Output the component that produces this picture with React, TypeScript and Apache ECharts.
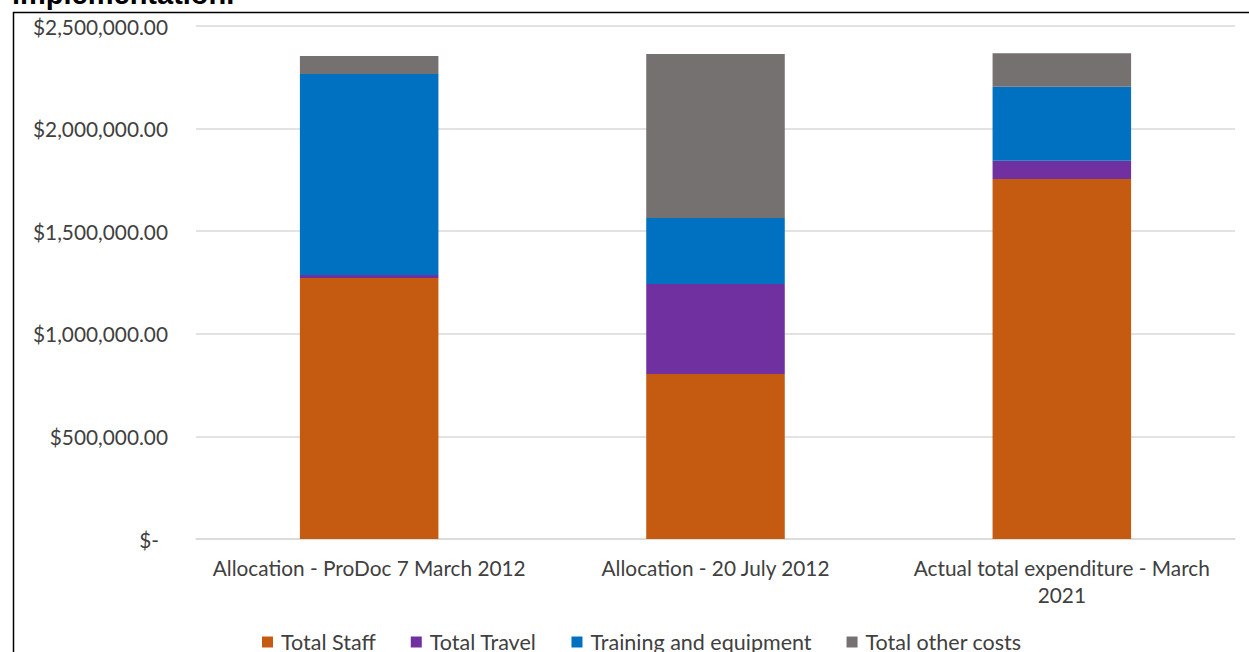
import React, { useEffect, useRef } from "react";
import * as echarts from "echarts";

const categories = [
  "Allocation - ProDoc 7 March 2012",
  "Allocation - 20 July 2012",
  "Actual total expenditure - March\n2021",
];
const seriesNames = ["Total Staff", "Total Travel", "Training and equipment", "Total other costs"];
const totalStaff = [1272000, 804000, 1754000];
const totalTravel = [15000, 439000, 89000];
const trainingEquipment = [979000, 321000, 361000];
const otherCosts = [88000, 799000, 163000];
const colors = ["#C55A11", "#7030A0", "#0070C0", "#767171"];
const yTicks = { min: 0, max: 2500000, interval: 500000 };

const FONT = "Lato";

export default function App() {
  const ref = useRef<HTMLDivElement>(null);
  useEffect(() => {
    if (!ref.current) return;
    const chart = echarts.init(ref.current, null, { renderer: "svg" });
    const data = [totalStaff, totalTravel, trainingEquipment, otherCosts];
    chart.setOption({
      animation: false,
      textStyle: { fontFamily: FONT },
      grid: { left: 196, right: 14, top: 26, bottom: 113, containLabel: false },
      legend: {
        top: 626,
        left: 257,
        icon: "rect",
        itemWidth: 11,
        itemHeight: 11,
        itemGap: 35,
        textStyle: { fontFamily: FONT, fontSize: 21.5, color: "#404040", padding: [0, 0, 0, 3] },
        data: seriesNames,
      },
      xAxis: {
        type: "category",
        data: categories,
        axisTick: { show: false },
        axisLine: { lineStyle: { color: "#D9D9D9", width: 1.5 } },
        axisLabel: {
          color: "#404040",
          fontFamily: FONT,
          fontSize: 20.8,
          lineHeight: 27,
          margin: 15,
          interval: 0,
        },
      },
      yAxis: {
        type: "value",
        min: yTicks.min,
        max: yTicks.max,
        interval: yTicks.interval,
        axisLine: { show: false },
        axisTick: { show: false },
        splitLine: { lineStyle: { color: "#D9D9D9", width: 1.5 } },
        axisLabel: {
          color: "#404040",
          fontFamily: FONT,
          fontSize: 20.8,
          margin: 28,
          formatter: (v: number) =>
            v === 0
              ? "{z|$-}"
              : "$" + v.toLocaleString("en-US", { minimumFractionDigits: 2, maximumFractionDigits: 2 }),
          rich: {
            z: { fontFamily: FONT, fontSize: 20.8, color: "#404040", padding: [0, 9, 0, 0] },
          },
        },
      },
      series: seriesNames.map((name, i) => ({
        name,
        type: "bar",
        stack: "total",
        data: data[i],
        barWidth: "40%",
        itemStyle: { color: colors[i] },
      })),
      graphic: [
        {
          type: "rect",
          shape: { x: 13.5, y: 12.5, width: 1260, height: 680 },
          style: { fill: "none", stroke: "#000", lineWidth: 1.5 },
          silent: true,
        },
        {
          type: "text",
          x: 12,
          y: -21,
          style: {
            text: "implementation.",
            font: "bold 29px 'Liberation Sans', Arial, sans-serif",
            fill: "#000",
          },
          silent: true,
        },
      ],
    });
    return () => chart.dispose();
  }, []);
  return (
    <div
      ref={ref}
      style={{ position: "fixed", left: 0, top: 0, width: 1249, height: 652, background: "#fff" }}
    />
  );
}
